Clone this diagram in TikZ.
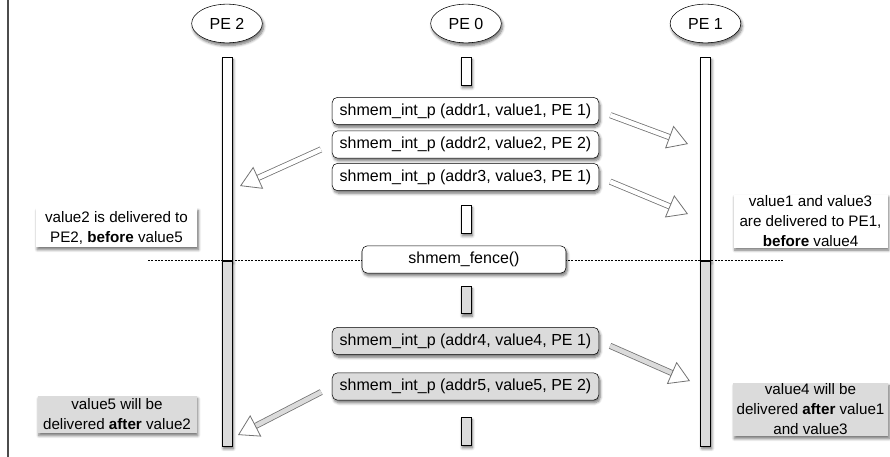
\documentclass[tikz,border=0pt]{standalone}
\usepackage{fontspec}
\setmainfont{Liberation Sans}
\usetikzlibrary{shapes.geometric,shadows.blur,arrows.meta,positioning}
\definecolor{litegrey}{gray}{0.86}
\tikzset{
  shade/.style={blur shadow={shadow xshift=1pt,shadow yshift=-2pt,shadow blur radius=2pt,shadow blur steps=6,shadow opacity=55}},
  pe/.style={ellipse,draw,fill=white,shade,minimum width=53pt,minimum height=29pt,inner sep=0pt,font=\fontsize{12}{14}\selectfont},
  life/.style={rectangle,draw,fill=white,shade,minimum width=7.5pt,inner sep=0pt,anchor=north},
  call/.style={rectangle,rounded corners=4pt,draw,fill=white,shade,minimum width=200pt,minimum height=20.5pt,inner sep=0pt,font=\fontsize{12}{14}\selectfont},
  note/.style={rectangle,fill=white,shade,align=center,inner sep=0pt,font=\fontsize{11.4}{15}\selectfont},
  put/.style={draw=black!55,double=white,double distance=3.4pt,line width=0.6pt,shorten <=9pt,
    -{Triangle[open,length=15pt,width=18pt]}},
  sep/.style={dash pattern=on 1.5pt off 1pt,line width=0.5pt}
}
\begin{document}
\begin{tikzpicture}[x=0.75pt,y=-0.75pt]
  \useasboundingbox (0,0) rectangle (890,457);
  \draw[black!70,line width=0.8pt] (8,0) -- (8,457);
  % the three PEs
  \node[pe] (pe2) at (227,23.5) {PE 2};
  \node[pe] (pe0) at (466,23.5) {PE 0};
  \node[pe] (pe1) at (705.5,23.5) {PE 1};
  % lifelines
  \node[life,minimum height=152.25pt] (pe2a) at (227,57) {};
  \node[life,fill=litegrey,minimum height=139pt] (pe2b) at (pe2a.south) {};
  \node[life,minimum height=152.25pt] (pe1a) at (705.5,57) {};
  \node[life,fill=litegrey,minimum height=139pt] (pe1b) at (pe1a.south) {};
  \node[life,minimum height=21pt] (pe0a) at (466,57) {};
  \node[life,minimum height=21pt] (pe0b) at (466,205) {};
  \node[life,fill=litegrey,minimum height=20.5pt] (pe0c) at (466,286) {};
  \node[life,fill=litegrey,minimum height=21pt] (pe0d) at (466,417) {};
  % fence line
  \coordinate (fl) at (148,260);
  \coordinate (fr) at (784,260);
  \draw[sep] (fl) -- (fr);
  \draw (pe2a.south west) -- (pe2a.south east);
  \draw (pe1a.south west) -- (pe1a.south east);
  % calls on PE 0
  \node[call] (call1) at (465.5,111) {shmem\_int\_p (addr1, value1, PE 1)};
  \node[call] (call2) at (465.5,144.5) {shmem\_int\_p (addr2, value2, PE 2)};
  \node[call] (call3) at (465.5,177) {shmem\_int\_p (addr3, value3, PE 1)};
  \node[call,minimum width=153pt] (fence) at (464,259.5) {shmem\_fence()};
  \node[call,fill=litegrey] (call4) at (465.5,341) {shmem\_int\_p (addr4, value4, PE 1)};
  \node[call,fill=litegrey] (call5) at (465.5,386.5) {shmem\_int\_p (addr5, value5, PE 2)};
  % puts
  \coordinate (d1) at (688,144);
  \coordinate (d2) at (240,186);
  \coordinate (d3) at (688,214);
  \coordinate (d4) at (690,381);
  \coordinate (d5) at (238,435);
  \draw[put] (call1.east) -- (d1);
  \draw[put] (call2.west) -- (d2);
  \draw[put] (call3.east) -- (d3);
  \draw[put,double=litegrey] (call4.east) -- (d4);
  \draw[put,double=litegrey] (call5.west) -- (d5);
  % notes
  \node[note,minimum width=121pt,minimum height=29.25pt] (n1) at (116.5,227.5)
    {value2 is delivered to\\PE2, \textbf{before} value5};
  \node[note,minimum width=115.5pt,minimum height=39.75pt] (n2) at (810.5,221)
    {value1 and value3\\are delivered to PE1,\\\textbf{before} value4};
  \node[note,fill=litegrey,minimum width=119.25pt,minimum height=27.75pt] (n3) at (117,414.5)
    {value5 will be\\delivered \textbf{after} value2};
  \node[note,fill=litegrey,minimum width=116.25pt,minimum height=39.75pt] (n4) at (810.5,409.5)
    {value4 will be\\delivered \textbf{after} value1\\and value3};
\end{tikzpicture}
\end{document}
